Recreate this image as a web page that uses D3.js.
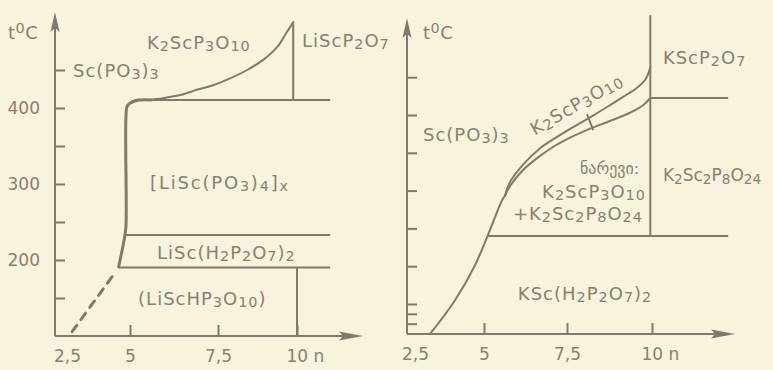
<!DOCTYPE html>
<html>
<head>
<meta charset="utf-8">
<script src="https://cdn.jsdelivr.net/npm/d3@7"></script>
<style>
  html, body { margin: 0; padding: 0; background: #f7f3dc; }
  svg { display: block; }
</style>
</head>
<body>
<div id="chart"></div>
<script>
// ---- data: left panel (Li system), points are [n, t°C] ----
const xTickValues = [2.5, 5, 7.5, 10];
const leftYTicks = [150, 200, 250, 300, 350, 400, 450];
const leftYLabels = [200, 300, 400];
const rightYTicks = [124, 137, 150, 200, 250, 300, 350, 400, 450];

const liCorner = [[5.6, 410.5], [5.15, 409.6], [4.9, 403], [4.84, 388], [4.84, 245], [4.78, 229], [4.55, 191]];
const liLiquidus = [[5.5, 410.5], [5.94, 413], [6.42, 417], [6.9, 424], [7.36, 430], [7.88, 439],
  [8.42, 450], [8.92, 463], [9.37, 480], [9.68, 500], [9.88, 513]];
const liDashed = [[4.29, 178], [2.58, 100]];
// straight boundaries [n1, t1, n2, t2]
const liSegments = [
  [9.88, 513, 9.88, 410.5],
  [5.5, 410.5, 11.05, 410.5],
  [4.84, 233, 11.05, 233],
  [4.55, 190, 11.05, 190],
  [10, 190, 10, 100]
];
const liLabels = [
  { text: 'Sc(PO_3)_3', n: 2.74, t: 450 },
  { text: 'K_2ScP_3O_10', n: 5.48, t: 487 },
  { text: 'LiScP_2O_7', n: 10.16, t: 489 },
  { text: '[LiSc(PO_3)_4]_x', n: 5.57, t: 302, spacing: 1.8 },
  { text: 'LiSc(H_2P_2O_7)_2', n: 5.77, t: 210 },
  { text: '(LiScHP_3O_10)', n: 5.23, t: 150 }
];

// ---- data: right panel (K system) ----
const kLower = [[3.04, 110], [3.95, 155], [4.67, 201], [5.18, 248], [5.54, 287], [5.63, 293]];
const kUpper = [[5.63, 293], [5.78, 311], [6.17, 334], [6.69, 356], [7.2, 371], [7.68, 384], [8.18, 397],
  [8.68, 410.6], [9.15, 424], [9.56, 436], [9.82, 448], [9.95, 463]];
const kBranch = [[5.63, 293], [5.8, 307], [6.17, 327], [6.6, 343], [7.08, 357.7], [7.59, 370], [8.18, 382],
  [8.76, 392], [9.35, 403], [9.74, 413], [9.95, 422.5]];
const kSegments = [
  [9.95, 532, 9.95, 240],
  [9.95, 422.5, 12.24, 422.5],
  [5.12, 240, 12.24, 240],
  [8.09, 401, 8.27, 380]
];
const kLabels = [
  { text: 'KScP_2O_7', n: 10.32, t: 477 },
  { text: 'Sc(PO_3)_3', n: 2.79, t: 375 },
  { text: 'K_2ScP_3O_10', n: 7.77, t: 415, anchor: 'middle', rotate: -30 },
  { text: 'ნარევი:', n: 7.88, t: 330, size: 16, spacing: 0 },
  { text: 'K_2ScP_3O_10', n: 6.75, t: 299.5 },
  { text: '+K_2Sc_2P_8O_24', n: 5.87, t: 270 },
  { text: 'K_2Sc_2P_8O_24', n: 10.32, t: 320.5, size: 17, spacing: 0 },
  { text: 'KSc(H_2P_2O_7)_2', n: 6.02, t: 164.5 }
];

// ---- layout ----
const config = {
  width: 773,
  height: 370,
  background: '#f7f3dc',
  ink: '#807a6c',
  text: '#878172',
  font: '"DejaVu Sans", sans-serif',
  fontSize: 18,
  left: { xRange: [67, 130, 218, 297], yDomain: [150, 450], yRange: [298, 70], x0: 55, y0: 336, xEnd: 363, yEnd: 12 },
  right: { xRange: [415, 484, 567, 652], yDomain: [150, 400], yRange: [304, 115], x0: 407, y0: 334, xEnd: 735, yEnd: 18 }
};

const svg = d3.select('#chart').append('svg')
  .attr('width', config.width)
  .attr('height', config.height);

svg.append('rect')
  .attr('width', config.width)
  .attr('height', config.height)
  .attr('fill', config.background);

// text with _sub and ^sup parts
function addLabel(g, str, x, y, opts = {}) {
  const size = opts.size || config.fontSize;
  const text = g.append('text')
    .attr('x', x)
    .attr('y', y)
    .attr('fill', config.text)
    .attr('font-family', config.font)
    .attr('font-size', size)
    .attr('letter-spacing', opts.spacing == null ? 1 : opts.spacing)
    .attr('dominant-baseline', 'central')
    .attr('text-anchor', opts.anchor || 'start');
  if (opts.rotate) text.attr('transform', `rotate(${opts.rotate},${x},${y})`);

  let shift = 0;
  const re = /([_^])([0-9x]+)|([^_^]+)/g;
  let m;
  while ((m = re.exec(str)) !== null) {
    const want = m[1] === '_' ? size * 0.22 : m[1] === '^' ? -size * 0.25 : 0;
    text.append('tspan')
      .attr('dy', want - shift)
      .attr('font-size', m[1] ? size * 0.8 : size)
      .text(m[1] ? m[2] : m[3]);
    shift = want;
  }
  return text;
}

function arrow(g, pts) {
  g.append('path')
    .attr('d', 'M' + pts.join('L') + 'Z')
    .attr('fill', config.ink);
}

function drawPanel(p, data) {
  const g = svg.append('g');
  const x = d3.scaleLinear().domain(xTickValues).range(p.xRange);
  const y = d3.scaleLinear().domain(p.yDomain).range(p.yRange);
  const line = d3.line().x(d => x(d[0])).y(d => y(d[1]));

  // axis lines + arrows
  g.append('line').attr('x1', p.x0).attr('x2', p.xEnd - 12).attr('y1', p.y0).attr('y2', p.y0)
    .attr('stroke', config.ink).attr('stroke-width', 2);
  g.append('line').attr('x1', p.x0).attr('x2', p.x0).attr('y1', p.y0).attr('y2', p.yEnd + 12)
    .attr('stroke', config.ink).attr('stroke-width', 2);
  arrow(g, [[p.xEnd, p.y0], [p.xEnd - 24, p.y0 - 4.5], [p.xEnd - 20, p.y0], [p.xEnd - 24, p.y0 + 4.5]]);
  arrow(g, [[p.x0, p.yEnd], [p.x0 - 4.5, p.yEnd + 20], [p.x0, p.yEnd + 16], [p.x0 + 4.5, p.yEnd + 20]]);

  // x axis
  const xAxis = g.append('g')
    .attr('transform', `translate(0,${p.y0})`)
    .call(d3.axisBottom(x).tickValues(xTickValues).tickSizeInner(-11).tickSizeOuter(0).tickPadding(14)
      .tickFormat(d => d === 10 ? '10 n' : String(d).replace('.', ',')));
  xAxis.select('.domain').remove();
  xAxis.selectAll('.tick line').attr('stroke', config.ink).attr('stroke-width', 2)
    .filter(d => d === 2.5).remove();
  xAxis.selectAll('.tick text')
    .attr('fill', config.text).attr('font-family', config.font).attr('font-size', 17)
    .filter(d => d === 10).attr('text-anchor', 'start').attr('x', -11);

  // y axis
  const yAxis = g.append('g')
    .attr('transform', `translate(${p.x0},0)`)
    .call(d3.axisLeft(y).tickValues(data.yTicks).tickSizeInner(-10).tickSizeOuter(0).tickPadding(15)
      .tickFormat(d => data.yLabels.includes(d) ? d : ''));
  yAxis.select('.domain').remove();
  yAxis.selectAll('.tick line').attr('stroke', config.ink).attr('stroke-width', 2);
  yAxis.selectAll('.tick text')
    .attr('fill', config.text).attr('font-family', config.font).attr('font-size', 17);

  addLabel(g, 't^0C', p.x0 - 47 + (data.titleDx || 0), 32, { spacing: 0.5, size: 18 });

  // boundaries
  data.curves.forEach(c => {
    g.append('path')
      .attr('d', line.curve(d3.curveCatmullRom.alpha(0.5))(c.points))
      .attr('fill', 'none')
      .attr('stroke', config.ink)
      .attr('stroke-width', c.width || 2)
      .attr('stroke-dasharray', c.dash || null)
      .attr('stroke-linecap', 'round')
      .attr('stroke-linejoin', 'round');
  });

  g.selectAll('.seg')
    .data(data.segments)
    .enter()
    .append('line')
    .attr('x1', d => x(d[0])).attr('y1', d => y(d[1]))
    .attr('x2', d => x(d[2])).attr('y2', d => y(d[3]))
    .attr('stroke', config.ink)
    .attr('stroke-width', 2);

  data.labels.forEach(l => addLabel(g, l.text, x(l.n), y(l.t), l));
}

drawPanel(config.left, {
  yTicks: leftYTicks,
  yLabels: leftYLabels,
  curves: [
    { points: liCorner, width: 3 },
    { points: liLiquidus },
    { points: liDashed, width: 3, dash: '8,7' }
  ],
  segments: liSegments,
  labels: liLabels
});

drawPanel(config.right, {
  yTicks: rightYTicks,
  yLabels: [],
  titleDx: 63,
  curves: [
    { points: kLower },
    { points: kUpper },
    { points: kBranch }
  ],
  segments: kSegments,
  labels: kLabels
});
</script>
</body>
</html>
